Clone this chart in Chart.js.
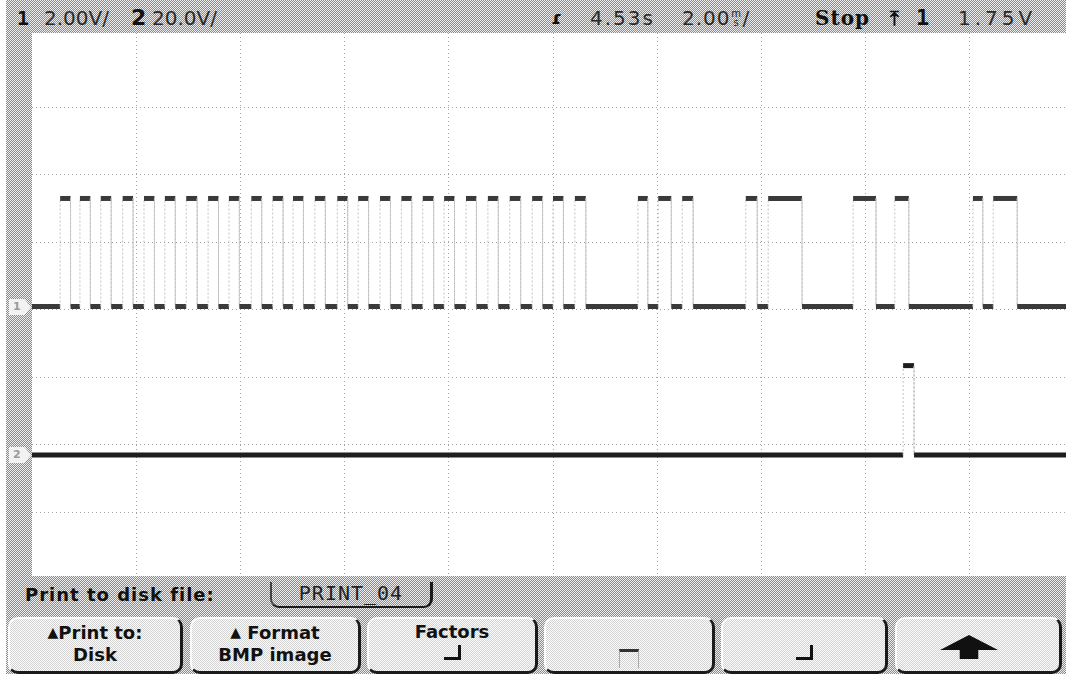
<!DOCTYPE html>
<html lang="en">
<head>
<meta charset="utf-8">
<title>PRINT_04</title>
<script src="https://cdn.jsdelivr.net/npm/chart.js@4.4.1/dist/chart.umd.min.js"></script>
<style>
  html, body { margin: 0; padding: 0; width: 1066px; height: 674px; overflow: hidden; background: #fff; }
  .screen {
    position: absolute; left: 6px; top: 0; width: 1060px; height: 674px;
    background: repeating-conic-gradient(#8c8c8c 0 25%, #ececec 0 50%) 0 0 / 2px 2px;
  }
  .plot { position: absolute; left: 32px; top: 33px; width: 1042px; height: 543px; background: #fff; }
  .t { position: absolute; top: 6px; font: 20px "DejaVu Sans", sans-serif; color: #2a2a2a; line-height: 24px; white-space: nowrap; }
  .b { font-weight: bold; color: #111; }
  .mono { font-family: "DejaVu Sans Mono", monospace; }
  .serif { font-family: "DejaVu Serif", serif; }
  .stack { display: inline-block; font-size: 10px; line-height: 9px; vertical-align: -1px; text-align: center; width: 12px; }
  .disk { position: absolute; left: 25px; top: 584px; font: bold 18px "DejaVu Sans", sans-serif; letter-spacing: 1px; color: #111; }
  .fname {
    position: absolute; left: 270px; top: 582px; width: 158px; height: 24px;
    border-left: 2px solid #444; border-right: 3px solid #1a1a1a; border-bottom: 2px solid #1a1a1a;
    border-radius: 0 0 9px 9px; font: 20px "DejaVu Sans Mono", monospace; letter-spacing: 1px;
    color: #222; text-align: center; line-height: 22px;
  }
  .btn {
    position: absolute; top: 617px; height: 50px; box-sizing: content-box;
    border-radius: 10px; border-top: 2px solid #fbfbfb; border-left: 2px solid #fbfbfb;
    border-right: 3px solid #1a1a1a; border-bottom: 3px solid #1a1a1a;
    background: repeating-conic-gradient(#d2d2d2 0 25%, #fdfdfd 0 50%) 0 0 / 2px 2px;
    font: bold 18px "DejaVu Sans", sans-serif; color: #111; text-align: center; line-height: 22px;
    padding-top: 2px;
  }
  .tri { font-size: 14px; vertical-align: 2px; }
  .chk { display: inline-block; width: 14px; height: 12px; border-right: 3px solid #111; border-bottom: 3px solid #111; margin-top: 2px; }
  .box { display: inline-block; width: 18px; height: 16px; border-top: 3px solid #333; border-left: 1px solid #aaa; border-right: 1px solid #aaa; margin-top: 6px; }
  .arrow {
    position: absolute; left: 43px; top: 16px; width: 58px; height: 24px; background: #111;
    clip-path: polygon(50% 0, 100% 62%, 66% 62%, 66% 100%, 34% 100%, 34% 62%, 0 62%);
  }
  .marker {
    position: absolute; left: 9px; width: 22px; height: 16px; background: #f2f2f2;
    clip-path: polygon(0 0, 70% 0, 100% 50%, 70% 100%, 0 100%);
    font: bold 11px "DejaVu Sans", sans-serif; color: #9a9a9a; line-height: 16px; padding-left: 4px; box-sizing: border-box;
  }
</style>
</head>
<body>
<div class="screen"></div>

<!-- status line -->
<div class="t mono b" style="left:17px;">1</div>
<div class="t" style="left:44px;">2.00V/</div>
<div class="t b" style="left:131px; font-size:22px;">2</div>
<div class="t" style="left:152px;">20.0V/</div>
<div class="t b" style="left:551px; font-size:18px;">ɾ</div>
<div class="t" style="left:590px; letter-spacing:2px;">4.53s</div>
<div class="t" style="left:682px; letter-spacing:1px;">2.00<span class="stack">m<br>s</span>/</div>
<div class="t serif b" style="left:815px; letter-spacing:1px;">Stop</div>
<div class="t b" style="left:890px;">⤒</div>
<div class="t mono b" style="left:916px; font-size:22px;">1</div>
<div class="t" style="left:958px; letter-spacing:4px;">1.75V</div>

<div class="plot"><canvas id="scopeChart"></canvas></div>

<!-- channel ground markers -->
<div class="marker" style="top:299px;">1</div>
<div class="marker" style="top:447px;">2</div>

<!-- softkey menu -->
<div class="disk">Print to disk file:</div>
<div class="fname">PRINT_04</div>
<div class="btn" style="left:8px; width:170px;"><span class="tri">▲</span>Print to:<br>Disk</div>
<div class="btn" style="left:190px; width:166px;"><span class="tri">▲</span> Format<br>BMP image</div>
<div class="btn" style="left:367px; width:166px;">Factors<br><span class="chk"></span></div>
<div class="btn" style="left:544px; width:166px;"><br><span class="box"></span></div>
<div class="btn" style="left:721px; width:162px;"><br><span class="chk"></span></div>
<div class="btn" style="left:895px; width:162px;"><div class="arrow"></div></div>

<script>
// time base 2.00 ms/div, trigger at centre of screen
const timeSpan = [-10, 10];                            // ms
const xGridTicks = [-8, -6, -4, -2, 0, 2, 4, 6, 8];    // ms
const yGridTicks = [-3, -2, -1, 0, 1, 2, 3];           // divisions
const ySpan = [-3.94, 4.1];                            // divisions

// channel 1 (2.00 V/div) - edge times in ms
const ch1Rise = [-9.46, -9.08, -8.68, -8.26, -7.85, -7.45, -7.04, -6.62, -6.22, -5.79,
  -5.38, -4.99, -4.57, -4.14, -3.74, -3.32, -2.91, -2.50, -2.09, -1.67,
  -1.25, -0.83, -0.40, 0.00, 0.42, 1.63, 2.02, 2.48, 3.70, 4.13, 5.76, 6.56, 8.06, 8.45];
const ch1Fall = [-9.26, -8.88, -8.48, -8.06, -7.65, -7.25, -6.83, -6.42, -6.02, -5.59,
  -5.18, -4.79, -4.37, -3.94, -3.54, -3.12, -2.71, -2.29, -1.89, -1.47,
  -1.05, -0.62, -0.20, 0.20, 0.63, 1.82, 2.27, 2.69, 3.92, 4.78, 6.20, 6.83, 8.25, 8.91];
const ch1Levels = [0, 3.2];     // V (low, high)

// channel 2 (20.0 V/div)
const ch2Rise = [6.72];
const ch2Fall = [6.93];
const ch2Levels = [0, 26.5];    // V

// vertical settings: volts per division and ground position in divisions
const ch1Setup = { vdiv: 2.0, ground: 0.05 };
const ch2Setup = { vdiv: 20.0, ground: -2.15 };

document.addEventListener('DOMContentLoaded', function () {
  initScopeChart();
});

// turn edge lists into a square wave (screen divisions on y)
function buildTrace(rise, fall, levels, setup) {
  const lo = levels[0] / setup.vdiv + setup.ground;
  const hi = levels[1] / setup.vdiv + setup.ground;
  const pts = [{ x: timeSpan[0], y: lo }];
  rise.forEach((r, i) => {
    pts.push({ x: r, y: lo }, { x: r, y: hi }, { x: fall[i], y: hi }, { x: fall[i], y: lo });
  });
  pts.push({ x: timeSpan[1], y: lo });
  return pts;
}

// vertical segments are the faint transitions, horizontal ones the bright trace
function isEdge(ctx) {
  return ctx.p0.parsed.x === ctx.p1.parsed.x;
}

function traceDataset(data, color) {
  return {
    data: data,
    borderColor: color,
    borderWidth: 5,
    pointRadius: 0,
    tension: 0,
    borderCapStyle: 'butt',
    segment: {
      borderColor: ctx => isEdge(ctx) ? '#c2c2c2' : color,
      borderWidth: ctx => isEdge(ctx) ? 1 : 5,
      borderDash: ctx => isEdge(ctx) ? [2, 2] : []
    }
  };
}

function initScopeChart() {
  const ctx = document.getElementById('scopeChart');
  new Chart(ctx, {
    type: 'line',
    data: {
      datasets: [
        traceDataset(buildTrace(ch1Rise, ch1Fall, ch1Levels, ch1Setup), '#3a3a3a'),
        traceDataset(buildTrace(ch2Rise, ch2Fall, ch2Levels, ch2Setup), '#1e1e1e')
      ]
    },
    options: {
      responsive: true,
      maintainAspectRatio: false,
      animation: false,
      layout: { padding: 0 },
      plugins: {
        legend: { display: false },
        tooltip: { enabled: false }
      },
      scales: {
        x: {
          type: 'linear',
          min: timeSpan[0],
          max: timeSpan[1],
          afterBuildTicks: scale => { scale.ticks = xGridTicks.map(v => ({ value: v })); },
          ticks: { display: false },
          grid: { color: '#a4a4a4', lineWidth: 1, drawTicks: false },
          border: { display: false, dash: [1, 3] }
        },
        y: {
          type: 'linear',
          min: ySpan[0],
          max: ySpan[1],
          afterBuildTicks: scale => { scale.ticks = yGridTicks.map(v => ({ value: v })); },
          ticks: { display: false },
          grid: { color: '#a4a4a4', lineWidth: 1, drawTicks: false },
          border: { display: false, dash: [1, 3] }
        }
      }
    }
  });
}
</script>
</body>
</html>
